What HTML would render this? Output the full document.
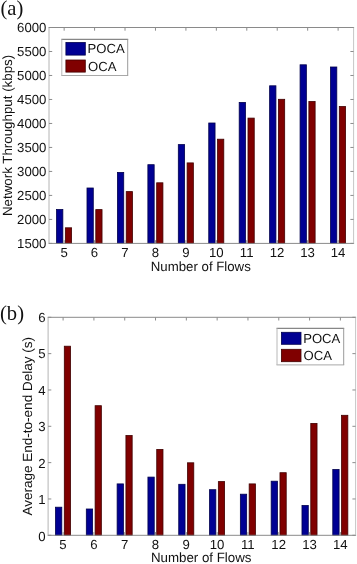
<!DOCTYPE html>
<html><head><meta charset="utf-8"><style>
html,body{margin:0;padding:0;background:#fff;}
body{width:357px;height:564px;overflow:hidden;}
svg{display:block;will-change:transform;}
.t{font-family:"Liberation Sans",sans-serif;font-size:13.3px;fill:#111;text-rendering:geometricPrecision;}
.k{font-size:13.2px;}
.s{font-family:"Liberation Serif",serif;font-size:20px;fill:#111;}
</style></head><body>
<svg width="357" height="564" viewBox="0 0 357 564">
<rect width="357" height="564" fill="#fff"/>
<text x="0.4" y="15.4" class="s" style="font-size:20.6px">(a)</text>
<text x="0" y="319.6" class="s" style="font-size:20.6px">(b)</text>
<rect x="56.55" y="209.50" width="6.30" height="33.90" fill="#000093" stroke="#00004c" stroke-width="0.8"/>
<rect x="65.35" y="227.80" width="6.25" height="15.60" fill="#800000" stroke="#400000" stroke-width="0.8"/>
<rect x="86.99" y="188.00" width="6.30" height="55.40" fill="#000093" stroke="#00004c" stroke-width="0.8"/>
<rect x="95.79" y="209.60" width="6.25" height="33.80" fill="#800000" stroke="#400000" stroke-width="0.8"/>
<rect x="117.43" y="172.40" width="6.30" height="71.00" fill="#000093" stroke="#00004c" stroke-width="0.8"/>
<rect x="126.23" y="191.60" width="6.25" height="51.80" fill="#800000" stroke="#400000" stroke-width="0.8"/>
<rect x="147.87" y="164.70" width="6.30" height="78.70" fill="#000093" stroke="#00004c" stroke-width="0.8"/>
<rect x="156.67" y="182.80" width="6.25" height="60.60" fill="#800000" stroke="#400000" stroke-width="0.8"/>
<rect x="178.31" y="144.60" width="6.30" height="98.80" fill="#000093" stroke="#00004c" stroke-width="0.8"/>
<rect x="187.11" y="162.90" width="6.25" height="80.50" fill="#800000" stroke="#400000" stroke-width="0.8"/>
<rect x="208.75" y="123.00" width="6.30" height="120.40" fill="#000093" stroke="#00004c" stroke-width="0.8"/>
<rect x="217.55" y="139.20" width="6.25" height="104.20" fill="#800000" stroke="#400000" stroke-width="0.8"/>
<rect x="239.19" y="102.40" width="6.30" height="141.00" fill="#000093" stroke="#00004c" stroke-width="0.8"/>
<rect x="247.99" y="118.10" width="6.25" height="125.30" fill="#800000" stroke="#400000" stroke-width="0.8"/>
<rect x="269.63" y="85.80" width="6.30" height="157.60" fill="#000093" stroke="#00004c" stroke-width="0.8"/>
<rect x="278.43" y="99.30" width="6.25" height="144.10" fill="#800000" stroke="#400000" stroke-width="0.8"/>
<rect x="300.07" y="64.80" width="6.30" height="178.60" fill="#000093" stroke="#00004c" stroke-width="0.8"/>
<rect x="308.87" y="101.50" width="6.25" height="141.90" fill="#800000" stroke="#400000" stroke-width="0.8"/>
<rect x="330.51" y="67.00" width="6.30" height="176.40" fill="#000093" stroke="#00004c" stroke-width="0.8"/>
<rect x="339.31" y="106.50" width="6.25" height="136.90" fill="#800000" stroke="#400000" stroke-width="0.8"/>
<line x1="48.5" y1="27.5" x2="354.1" y2="27.5" stroke="#8a8a8a" stroke-width="1"/>
<line x1="48.5" y1="243.4" x2="354.1" y2="243.4" stroke="#8a8a8a" stroke-width="1"/>
<line x1="49.0" y1="27.5" x2="49.0" y2="243.4" stroke="#b4b4b4" stroke-width="1"/>
<line x1="353.6" y1="27.5" x2="353.6" y2="243.4" stroke="#c6c6c6" stroke-width="1"/>
<line x1="64.15" y1="27.5" x2="64.15" y2="30.7" stroke="#8c8c8c" stroke-width="1"/>
<line x1="64.15" y1="240.20000000000002" x2="64.15" y2="243.4" stroke="#8c8c8c" stroke-width="1"/>
<text x="64.05" y="257.2" text-anchor="middle" class="t k">5</text>
<line x1="94.59" y1="27.5" x2="94.59" y2="30.7" stroke="#8c8c8c" stroke-width="1"/>
<line x1="94.59" y1="240.20000000000002" x2="94.59" y2="243.4" stroke="#8c8c8c" stroke-width="1"/>
<text x="94.49" y="257.2" text-anchor="middle" class="t k">6</text>
<line x1="125.03" y1="27.5" x2="125.03" y2="30.7" stroke="#8c8c8c" stroke-width="1"/>
<line x1="125.03" y1="240.20000000000002" x2="125.03" y2="243.4" stroke="#8c8c8c" stroke-width="1"/>
<text x="124.93" y="257.2" text-anchor="middle" class="t k">7</text>
<line x1="155.47" y1="27.5" x2="155.47" y2="30.7" stroke="#8c8c8c" stroke-width="1"/>
<line x1="155.47" y1="240.20000000000002" x2="155.47" y2="243.4" stroke="#8c8c8c" stroke-width="1"/>
<text x="155.37" y="257.2" text-anchor="middle" class="t k">8</text>
<line x1="185.91" y1="27.5" x2="185.91" y2="30.7" stroke="#8c8c8c" stroke-width="1"/>
<line x1="185.91" y1="240.20000000000002" x2="185.91" y2="243.4" stroke="#8c8c8c" stroke-width="1"/>
<text x="185.81" y="257.2" text-anchor="middle" class="t k">9</text>
<line x1="216.35" y1="27.5" x2="216.35" y2="30.7" stroke="#8c8c8c" stroke-width="1"/>
<line x1="216.35" y1="240.20000000000002" x2="216.35" y2="243.4" stroke="#8c8c8c" stroke-width="1"/>
<text x="216.25" y="257.2" text-anchor="middle" class="t k">10</text>
<line x1="246.79" y1="27.5" x2="246.79" y2="30.7" stroke="#8c8c8c" stroke-width="1"/>
<line x1="246.79" y1="240.20000000000002" x2="246.79" y2="243.4" stroke="#8c8c8c" stroke-width="1"/>
<text x="246.69" y="257.2" text-anchor="middle" class="t k">11</text>
<line x1="277.23" y1="27.5" x2="277.23" y2="30.7" stroke="#8c8c8c" stroke-width="1"/>
<line x1="277.23" y1="240.20000000000002" x2="277.23" y2="243.4" stroke="#8c8c8c" stroke-width="1"/>
<text x="277.13" y="257.2" text-anchor="middle" class="t k">12</text>
<line x1="307.67" y1="27.5" x2="307.67" y2="30.7" stroke="#8c8c8c" stroke-width="1"/>
<line x1="307.67" y1="240.20000000000002" x2="307.67" y2="243.4" stroke="#8c8c8c" stroke-width="1"/>
<text x="307.57" y="257.2" text-anchor="middle" class="t k">13</text>
<line x1="338.11" y1="27.5" x2="338.11" y2="30.7" stroke="#8c8c8c" stroke-width="1"/>
<line x1="338.11" y1="240.20000000000002" x2="338.11" y2="243.4" stroke="#8c8c8c" stroke-width="1"/>
<text x="338.01" y="257.2" text-anchor="middle" class="t k">14</text>
<line x1="49.0" y1="243.40" x2="52.2" y2="243.40" stroke="#8c8c8c" stroke-width="1"/>
<line x1="350.40000000000003" y1="243.40" x2="353.6" y2="243.40" stroke="#8c8c8c" stroke-width="1"/>
<text x="46.4" y="247.90" text-anchor="end" class="t k">1500</text>
<line x1="49.0" y1="219.41" x2="52.2" y2="219.41" stroke="#8c8c8c" stroke-width="1"/>
<line x1="350.40000000000003" y1="219.41" x2="353.6" y2="219.41" stroke="#8c8c8c" stroke-width="1"/>
<text x="46.4" y="223.91" text-anchor="end" class="t k">2000</text>
<line x1="49.0" y1="195.42" x2="52.2" y2="195.42" stroke="#8c8c8c" stroke-width="1"/>
<line x1="350.40000000000003" y1="195.42" x2="353.6" y2="195.42" stroke="#8c8c8c" stroke-width="1"/>
<text x="46.4" y="200.12" text-anchor="end" class="t k">2500</text>
<line x1="49.0" y1="171.43" x2="52.2" y2="171.43" stroke="#8c8c8c" stroke-width="1"/>
<line x1="350.40000000000003" y1="171.43" x2="353.6" y2="171.43" stroke="#8c8c8c" stroke-width="1"/>
<text x="46.4" y="176.23" text-anchor="end" class="t k">3000</text>
<line x1="49.0" y1="147.44" x2="52.2" y2="147.44" stroke="#8c8c8c" stroke-width="1"/>
<line x1="350.40000000000003" y1="147.44" x2="353.6" y2="147.44" stroke="#8c8c8c" stroke-width="1"/>
<text x="46.4" y="152.29" text-anchor="end" class="t k">3500</text>
<line x1="49.0" y1="123.46" x2="52.2" y2="123.46" stroke="#8c8c8c" stroke-width="1"/>
<line x1="350.40000000000003" y1="123.46" x2="353.6" y2="123.46" stroke="#8c8c8c" stroke-width="1"/>
<text x="46.4" y="128.36" text-anchor="end" class="t k">4000</text>
<line x1="49.0" y1="99.47" x2="52.2" y2="99.47" stroke="#8c8c8c" stroke-width="1"/>
<line x1="350.40000000000003" y1="99.47" x2="353.6" y2="99.47" stroke="#8c8c8c" stroke-width="1"/>
<text x="46.4" y="104.22" text-anchor="end" class="t k">4500</text>
<line x1="49.0" y1="75.48" x2="52.2" y2="75.48" stroke="#8c8c8c" stroke-width="1"/>
<line x1="350.40000000000003" y1="75.48" x2="353.6" y2="75.48" stroke="#8c8c8c" stroke-width="1"/>
<text x="46.4" y="80.28" text-anchor="end" class="t k">5000</text>
<line x1="49.0" y1="51.49" x2="52.2" y2="51.49" stroke="#8c8c8c" stroke-width="1"/>
<line x1="350.40000000000003" y1="51.49" x2="353.6" y2="51.49" stroke="#8c8c8c" stroke-width="1"/>
<text x="46.4" y="56.29" text-anchor="end" class="t k">5500</text>
<line x1="49.0" y1="27.50" x2="52.2" y2="27.50" stroke="#8c8c8c" stroke-width="1"/>
<line x1="350.40000000000003" y1="27.50" x2="353.6" y2="27.50" stroke="#8c8c8c" stroke-width="1"/>
<text x="46.4" y="32.10" text-anchor="end" class="t k">6000</text>
<text x="200.8" y="271.0" text-anchor="middle" textLength="100" lengthAdjust="spacingAndGlyphs" class="t">Number of Flows</text>
<text transform="translate(11.9,135.45) rotate(-90)" text-anchor="middle" textLength="161.3" lengthAdjust="spacingAndGlyphs" class="t">Network Throughput (kbps)</text>
<rect x="61.8" y="39.3" width="65.9" height="36.2" fill="#fff"/>
<line x1="61.3" y1="39.3" x2="128.2" y2="39.3" stroke="#6a6a6a" stroke-width="1"/>
<line x1="61.3" y1="75.5" x2="128.2" y2="75.5" stroke="#a8a8a8" stroke-width="1"/>
<line x1="61.8" y1="39.3" x2="61.8" y2="75.5" stroke="#b8b8b8" stroke-width="1"/>
<line x1="127.7" y1="39.3" x2="127.7" y2="75.5" stroke="#9a9a9a" stroke-width="1"/>
<rect x="65.9" y="42.5" width="19.40" height="12.60" fill="#000093" stroke="#00004c" stroke-width="0.8"/>
<rect x="65.9" y="60.0" width="19.40" height="12.10" fill="#800000" stroke="#400000" stroke-width="0.8"/>
<text x="87.6" y="53.3" class="t" style="font-size:13.1px">POCA</text>
<text x="88.0" y="70.75" class="t" style="font-size:13.1px">OCA</text>
<rect x="55.50" y="507.20" width="6.30" height="28.10" fill="#000093" stroke="#00004c" stroke-width="0.8"/>
<rect x="64.30" y="346.20" width="6.25" height="189.10" fill="#800000" stroke="#400000" stroke-width="0.8"/>
<rect x="86.31" y="509.00" width="6.30" height="26.30" fill="#000093" stroke="#00004c" stroke-width="0.8"/>
<rect x="95.11" y="405.70" width="6.25" height="129.60" fill="#800000" stroke="#400000" stroke-width="0.8"/>
<rect x="117.12" y="483.90" width="6.30" height="51.40" fill="#000093" stroke="#00004c" stroke-width="0.8"/>
<rect x="125.92" y="435.50" width="6.25" height="99.80" fill="#800000" stroke="#400000" stroke-width="0.8"/>
<rect x="147.93" y="477.10" width="6.30" height="58.20" fill="#000093" stroke="#00004c" stroke-width="0.8"/>
<rect x="156.73" y="449.40" width="6.25" height="85.90" fill="#800000" stroke="#400000" stroke-width="0.8"/>
<rect x="178.74" y="484.30" width="6.30" height="51.00" fill="#000093" stroke="#00004c" stroke-width="0.8"/>
<rect x="187.54" y="462.80" width="6.25" height="72.50" fill="#800000" stroke="#400000" stroke-width="0.8"/>
<rect x="209.55" y="489.70" width="6.30" height="45.60" fill="#000093" stroke="#00004c" stroke-width="0.8"/>
<rect x="218.35" y="481.60" width="6.25" height="53.70" fill="#800000" stroke="#400000" stroke-width="0.8"/>
<rect x="240.36" y="494.20" width="6.30" height="41.10" fill="#000093" stroke="#00004c" stroke-width="0.8"/>
<rect x="249.16" y="483.90" width="6.25" height="51.40" fill="#800000" stroke="#400000" stroke-width="0.8"/>
<rect x="271.17" y="481.20" width="6.30" height="54.10" fill="#000093" stroke="#00004c" stroke-width="0.8"/>
<rect x="279.97" y="472.70" width="6.25" height="62.60" fill="#800000" stroke="#400000" stroke-width="0.8"/>
<rect x="301.98" y="505.50" width="6.30" height="29.80" fill="#000093" stroke="#00004c" stroke-width="0.8"/>
<rect x="310.78" y="423.40" width="6.25" height="111.90" fill="#800000" stroke="#400000" stroke-width="0.8"/>
<rect x="332.79" y="469.50" width="6.30" height="65.80" fill="#000093" stroke="#00004c" stroke-width="0.8"/>
<rect x="341.59" y="415.30" width="6.25" height="120.00" fill="#800000" stroke="#400000" stroke-width="0.8"/>
<line x1="47.6" y1="317.3" x2="356.1" y2="317.3" stroke="#8a8a8a" stroke-width="1"/>
<line x1="47.6" y1="535.3" x2="356.1" y2="535.3" stroke="#8a8a8a" stroke-width="1"/>
<line x1="48.1" y1="317.3" x2="48.1" y2="535.3" stroke="#b4b4b4" stroke-width="1"/>
<line x1="355.6" y1="317.3" x2="355.6" y2="535.3" stroke="#c6c6c6" stroke-width="1"/>
<line x1="63.10" y1="317.3" x2="63.10" y2="320.5" stroke="#8c8c8c" stroke-width="1"/>
<line x1="63.10" y1="532.0999999999999" x2="63.10" y2="535.3" stroke="#8c8c8c" stroke-width="1"/>
<text x="63.00" y="549.4" text-anchor="middle" class="t k">5</text>
<line x1="93.91" y1="317.3" x2="93.91" y2="320.5" stroke="#8c8c8c" stroke-width="1"/>
<line x1="93.91" y1="532.0999999999999" x2="93.91" y2="535.3" stroke="#8c8c8c" stroke-width="1"/>
<text x="93.81" y="549.4" text-anchor="middle" class="t k">6</text>
<line x1="124.72" y1="317.3" x2="124.72" y2="320.5" stroke="#8c8c8c" stroke-width="1"/>
<line x1="124.72" y1="532.0999999999999" x2="124.72" y2="535.3" stroke="#8c8c8c" stroke-width="1"/>
<text x="124.62" y="549.4" text-anchor="middle" class="t k">7</text>
<line x1="155.53" y1="317.3" x2="155.53" y2="320.5" stroke="#8c8c8c" stroke-width="1"/>
<line x1="155.53" y1="532.0999999999999" x2="155.53" y2="535.3" stroke="#8c8c8c" stroke-width="1"/>
<text x="155.43" y="549.4" text-anchor="middle" class="t k">8</text>
<line x1="186.34" y1="317.3" x2="186.34" y2="320.5" stroke="#8c8c8c" stroke-width="1"/>
<line x1="186.34" y1="532.0999999999999" x2="186.34" y2="535.3" stroke="#8c8c8c" stroke-width="1"/>
<text x="186.24" y="549.4" text-anchor="middle" class="t k">9</text>
<line x1="217.15" y1="317.3" x2="217.15" y2="320.5" stroke="#8c8c8c" stroke-width="1"/>
<line x1="217.15" y1="532.0999999999999" x2="217.15" y2="535.3" stroke="#8c8c8c" stroke-width="1"/>
<text x="217.05" y="549.4" text-anchor="middle" class="t k">10</text>
<line x1="247.96" y1="317.3" x2="247.96" y2="320.5" stroke="#8c8c8c" stroke-width="1"/>
<line x1="247.96" y1="532.0999999999999" x2="247.96" y2="535.3" stroke="#8c8c8c" stroke-width="1"/>
<text x="247.86" y="549.4" text-anchor="middle" class="t k">11</text>
<line x1="278.77" y1="317.3" x2="278.77" y2="320.5" stroke="#8c8c8c" stroke-width="1"/>
<line x1="278.77" y1="532.0999999999999" x2="278.77" y2="535.3" stroke="#8c8c8c" stroke-width="1"/>
<text x="278.67" y="549.4" text-anchor="middle" class="t k">12</text>
<line x1="309.58" y1="317.3" x2="309.58" y2="320.5" stroke="#8c8c8c" stroke-width="1"/>
<line x1="309.58" y1="532.0999999999999" x2="309.58" y2="535.3" stroke="#8c8c8c" stroke-width="1"/>
<text x="309.48" y="549.4" text-anchor="middle" class="t k">13</text>
<line x1="340.39" y1="317.3" x2="340.39" y2="320.5" stroke="#8c8c8c" stroke-width="1"/>
<line x1="340.39" y1="532.0999999999999" x2="340.39" y2="535.3" stroke="#8c8c8c" stroke-width="1"/>
<text x="340.29" y="549.4" text-anchor="middle" class="t k">14</text>
<line x1="48.1" y1="535.30" x2="51.300000000000004" y2="535.30" stroke="#8c8c8c" stroke-width="1"/>
<line x1="352.40000000000003" y1="535.30" x2="355.6" y2="535.30" stroke="#8c8c8c" stroke-width="1"/>
<text x="45.7" y="540.60" text-anchor="end" class="t k">0</text>
<line x1="48.1" y1="498.97" x2="51.300000000000004" y2="498.97" stroke="#8c8c8c" stroke-width="1"/>
<line x1="352.40000000000003" y1="498.97" x2="355.6" y2="498.97" stroke="#8c8c8c" stroke-width="1"/>
<text x="45.7" y="504.15" text-anchor="end" class="t k">1</text>
<line x1="48.1" y1="462.63" x2="51.300000000000004" y2="462.63" stroke="#8c8c8c" stroke-width="1"/>
<line x1="352.40000000000003" y1="462.63" x2="355.6" y2="462.63" stroke="#8c8c8c" stroke-width="1"/>
<text x="45.7" y="467.70" text-anchor="end" class="t k">2</text>
<line x1="48.1" y1="426.30" x2="51.300000000000004" y2="426.30" stroke="#8c8c8c" stroke-width="1"/>
<line x1="352.40000000000003" y1="426.30" x2="355.6" y2="426.30" stroke="#8c8c8c" stroke-width="1"/>
<text x="45.7" y="431.25" text-anchor="end" class="t k">3</text>
<line x1="48.1" y1="389.97" x2="51.300000000000004" y2="389.97" stroke="#8c8c8c" stroke-width="1"/>
<line x1="352.40000000000003" y1="389.97" x2="355.6" y2="389.97" stroke="#8c8c8c" stroke-width="1"/>
<text x="45.7" y="394.80" text-anchor="end" class="t k">4</text>
<line x1="48.1" y1="353.63" x2="51.300000000000004" y2="353.63" stroke="#8c8c8c" stroke-width="1"/>
<line x1="352.40000000000003" y1="353.63" x2="355.6" y2="353.63" stroke="#8c8c8c" stroke-width="1"/>
<text x="45.7" y="358.35" text-anchor="end" class="t k">5</text>
<line x1="48.1" y1="317.30" x2="51.300000000000004" y2="317.30" stroke="#8c8c8c" stroke-width="1"/>
<line x1="352.40000000000003" y1="317.30" x2="355.6" y2="317.30" stroke="#8c8c8c" stroke-width="1"/>
<text x="45.7" y="321.90" text-anchor="end" class="t k">6</text>
<text x="201.2" y="562.0" text-anchor="middle" textLength="100.6" lengthAdjust="spacingAndGlyphs" class="t">Number of Flows</text>
<text transform="translate(32.0,426.30) rotate(-90)" text-anchor="middle" textLength="178.6" lengthAdjust="spacingAndGlyphs" class="t">Average End-to-end Delay (s)</text>
<rect x="277.0" y="328.3" width="66.7" height="36.6" fill="#fff"/>
<line x1="276.5" y1="328.3" x2="344.2" y2="328.3" stroke="#6a6a6a" stroke-width="1"/>
<line x1="276.5" y1="364.90000000000003" x2="344.2" y2="364.90000000000003" stroke="#a8a8a8" stroke-width="1"/>
<line x1="277.0" y1="328.3" x2="277.0" y2="364.90000000000003" stroke="#b8b8b8" stroke-width="1"/>
<line x1="343.7" y1="328.3" x2="343.7" y2="364.90000000000003" stroke="#9a9a9a" stroke-width="1"/>
<rect x="281.4" y="332.29999999999995" width="19.60" height="12.00" fill="#000093" stroke="#00004c" stroke-width="0.8"/>
<rect x="281.4" y="349.29999999999995" width="19.60" height="12.40" fill="#800000" stroke="#400000" stroke-width="0.8"/>
<text x="303.2" y="343.0" class="t" style="font-size:13.1px">POCA</text>
<text x="303.59999999999997" y="360.1" class="t" style="font-size:13.1px">OCA</text>
</svg>
</body></html>
